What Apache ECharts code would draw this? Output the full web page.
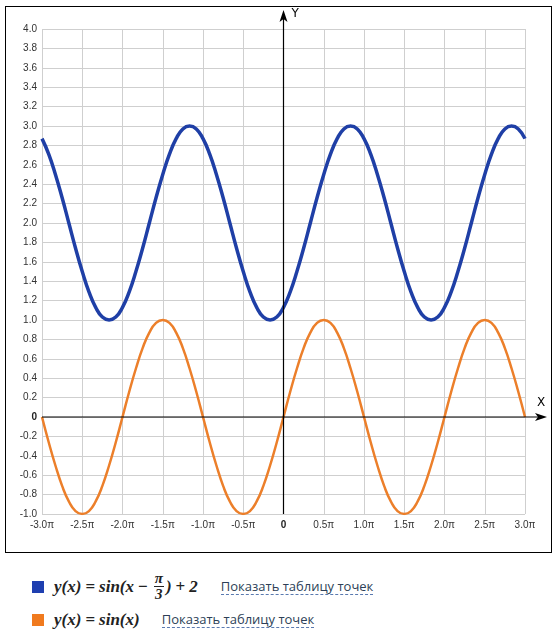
<!DOCTYPE html>
<html>
<head>
<meta charset="utf-8">
<script src="https://cdn.jsdelivr.net/npm/echarts@6/dist/echarts.min.js"></script>
<style>
  body { margin: 0; background: #fff; font-family: "Open Sans", "DejaVu Sans", sans-serif; }
  #box { position: absolute; left: 5px; top: 6px; width: 547px; height: 547px; border: 1px solid #000; box-sizing: border-box; }
  #chart { width: 100%; height: 100%; }
  .row { position: absolute; left: 32px; display: flex; align-items: center; }
  .sq { width: 12px; height: 12px; margin-right: 10px; }
  .f { font-family: "Liberation Serif", "DejaVu Serif", serif; font-style: italic; font-weight: bold; font-size: 17px; color: #222; display: flex; align-items: center; }
  .f .up { font-style: normal; margin: 0 4px; }
  .frac { display: inline-flex; flex-direction: column; align-items: center; font-size: 15px; line-height: 15px; margin: 0 2px; }
  .frac span:first-child { border-bottom: 1px solid #222; padding: 0 1px; }
  .frac span { margin: 0; }
  .link { font-size: 13px; color: #2d3f57; border-bottom: 1px dashed #5a7ab0; line-height: 15px; }
</style>
</head>
<body>
<div id="box"><div id="chart"></div></div>
<div class="row" style="top:571px">
  <div class="sq" style="background:#1f3fb0"></div>
  <div class="f">y(x)<span class="up">=</span>sin(x<span class="up">−</span><span class="frac"><span>π</span><span>3</span></span>)<span class="up">+</span>2</div>
  <div class="link" style="margin-left:23px">Показать таблицу точек</div>
</div>
<div class="row" style="top:610px">
  <div class="sq" style="background:#f07a1e"></div>
  <div class="f">y(x)<span class="up">=</span>sin(x)</div>
  <div class="link" style="margin-left:22px">Показать таблицу точек</div>
</div>
<script>
// x измеряется в долях π, шаг π/12, от -3π до 3π
const samplesPerPi = 12;
const xMin = -3;

// y(x) = sin(x - π/3) + 2
const blueValues = [
  2.87, 2.71, 2.5, 2.26, 2, 1.74, 1.5, 1.29, 1.13, 1.03, 1, 1.03,
  1.13, 1.29, 1.5, 1.74, 2, 2.26, 2.5, 2.71, 2.87, 2.97, 3, 2.97,
  2.87, 2.71, 2.5, 2.26, 2, 1.74, 1.5, 1.29, 1.13, 1.03, 1, 1.03,
  1.13, 1.29, 1.5, 1.74, 2, 2.26, 2.5, 2.71, 2.87, 2.97, 3, 2.97,
  2.87, 2.71, 2.5, 2.26, 2, 1.74, 1.5, 1.29, 1.13, 1.03, 1, 1.03,
  1.13, 1.29, 1.5, 1.74, 2, 2.26, 2.5, 2.71, 2.87, 2.97, 3, 2.97,
  2.87
];

// y(x) = sin(x)
const orangeValues = [
  0, -0.26, -0.5, -0.71, -0.87, -0.97, -1, -0.97, -0.87, -0.71, -0.5, -0.26,
  0, 0.26, 0.5, 0.71, 0.87, 0.97, 1, 0.97, 0.87, 0.71, 0.5, 0.26,
  0, -0.26, -0.5, -0.71, -0.87, -0.97, -1, -0.97, -0.87, -0.71, -0.5, -0.26,
  0, 0.26, 0.5, 0.71, 0.87, 0.97, 1, 0.97, 0.87, 0.71, 0.5, 0.26,
  0, -0.26, -0.5, -0.71, -0.87, -0.97, -1, -0.97, -0.87, -0.71, -0.5, -0.26,
  0, 0.26, 0.5, 0.71, 0.87, 0.97, 1, 0.97, 0.87, 0.71, 0.5, 0.26,
  0
];

const toPairs = (vals) => vals.map((v, i) => [xMin + i / samplesPerPi, v]);

const chart = echarts.init(document.getElementById('chart'));
chart.setOption({
  animation: false,
  grid: { left: 36, right: 26, top: 22, bottom: 38 },
  xAxis: {
    type: 'value', min: -3, max: 3, interval: 0.5,
    axisLine: { show: false }, axisTick: { show: false },
    splitLine: { lineStyle: { color: '#cfcfcf' } },
    axisLabel: {
      margin: 6, fontSize: 10, color: '#333',
      formatter: v => v === 0 ? '{b|0}' : v.toFixed(1) + 'π',
      rich: { b: { fontWeight: 'bold', fontSize: 10, color: '#222' } }
    }
  },
  yAxis: {
    type: 'value', min: -1, max: 4, interval: 0.2,
    axisLine: { show: false }, axisTick: { show: false },
    splitLine: { lineStyle: { color: '#cfcfcf' } },
    axisLabel: {
      margin: 5, fontSize: 10, color: '#333',
      formatter: v => Math.abs(v) < 1e-9 ? '{b|0}' : v.toFixed(1),
      rich: { b: { fontWeight: 'bold', fontSize: 10, color: '#222' } }
    }
  },
  series: [
    {
      type: 'line', data: toPairs(orangeValues), smooth: true, showSymbol: false,
      lineStyle: { color: '#ec7f2a', width: 2.5 }, z: 3
    },
    {
      type: 'line', data: toPairs(blueValues), smooth: true, showSymbol: false,
      lineStyle: { color: '#1f3fa6', width: 3.5 }, z: 4
    }
  ]
});

// оси со стрелками
const pO = chart.convertToPixel('grid', [0, 0]);
const pLeft = chart.convertToPixel('grid', [-3, 0]);
const pRight = chart.convertToPixel('grid', [3, 0]);
const pTop = chart.convertToPixel('grid', [0, 4]);
const pBottom = chart.convertToPixel('grid', [0, -1]);
const xEnd = pRight[0] + 22;
const yEnd = pTop[1] - 19;
chart.setOption({
  graphic: [
    { type: 'line', shape: { x1: pLeft[0], y1: pO[1], x2: xEnd - 6, y2: pO[1] }, style: { stroke: '#000', lineWidth: 1.2 }, z: 10 },
    { type: 'polygon', shape: { points: [[xEnd, pO[1]], [xEnd - 12, pO[1] - 4], [xEnd - 9, pO[1]], [xEnd - 12, pO[1] + 4]] }, style: { fill: '#000' }, z: 10 },
    { type: 'line', shape: { x1: pO[0], y1: pBottom[1], x2: pO[0], y2: yEnd + 6 }, style: { stroke: '#000', lineWidth: 1.2 }, z: 10 },
    { type: 'polygon', shape: { points: [[pO[0], yEnd], [pO[0] - 4, yEnd + 12], [pO[0], yEnd + 9], [pO[0] + 4, yEnd + 12]] }, style: { fill: '#000' }, z: 10 },
    { type: 'text', x: xEnd - 10, y: pO[1] - 20, style: { text: 'X', font: '12px "DejaVu Sans"', fill: '#000' }, z: 10 },
    { type: 'text', x: pO[0] + 8, y: yEnd - 2, style: { text: 'Y', font: '12px "DejaVu Sans"', fill: '#000' }, z: 10 }
  ]
});
</script>
</body>
</html>
